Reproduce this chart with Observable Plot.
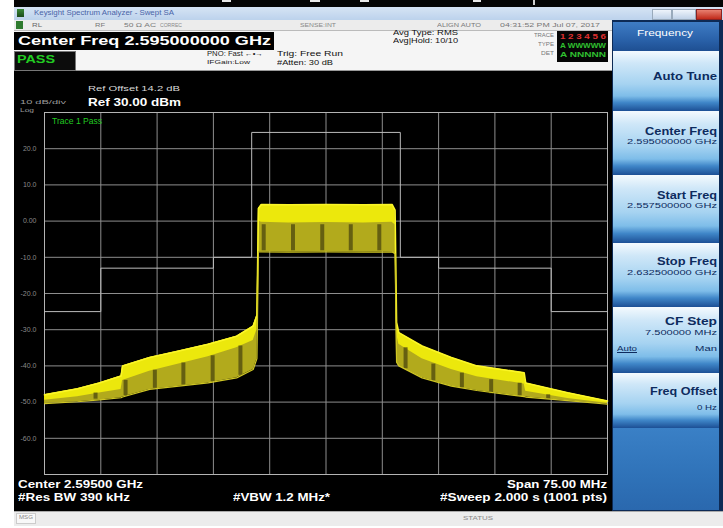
<!DOCTYPE html>
<html><head><meta charset="utf-8">
<script src="https://cdn.jsdelivr.net/npm/d3@7"></script>
<script src="https://cdn.jsdelivr.net/npm/@observablehq/plot@0.6"></script>
<style>
body{margin:0;background:#fff;font-family:"Liberation Sans",Arial,sans-serif;}
#scr{position:relative;width:723px;height:528px;overflow:hidden;background:#fff;}
.b{position:absolute;}
.t{position:absolute;white-space:nowrap;line-height:1;transform-origin:0 0;}
</style></head><body><div id="scr"></div>
<script>
// ---- data (frequency in MHz, level in dBm) ----
const freqMHz = [2557.5, 2561.9, 2564.8, 2567.7, 2567.9, 2571.5, 2575.4, 2579.3, 2583.1, 2585.3, 2585.8, 2586.0, 2586.4, 2590.0, 2595.0, 2600.0, 2603.8, 2604.2, 2604.4, 2604.7, 2607.8, 2611.7, 2615.1, 2621.4, 2621.6, 2627.2, 2632.5];
const upperDbm = [-48.0, -46.3, -44.7, -42.8, -40.0, -37.7, -35.9, -34.0, -31.8, -29.0, -26.0, 3.5, 4.6, 4.5, 4.6, 4.5, 4.6, 3.0, -28.0, -30.8, -34.5, -37.7, -40.0, -41.9, -44.7, -47.4, -49.7];
const brightLowDbm = [-49.5, -48.5, -47.5, -46.5, -44.0, -41.5, -39.5, -37.5, -35.0, -33.0, -30.0, 0.0, -0.3, -0.5, -0.4, -0.5, -0.3, -1.0, -31.0, -34.0, -38.0, -41.0, -43.0, -45.0, -47.0, -49.0, -50.3];
const lowerDbm = [-50.4, -49.9, -49.4, -48.8, -48.6, -46.5, -45.6, -44.7, -43.3, -41.0, -38.0, -8.5, -8.5, -8.6, -8.5, -8.6, -8.5, -9.0, -39.0, -40.0, -43.3, -45.6, -46.8, -48.5, -48.6, -49.6, -50.6];

const stripeMHz = [2564.3, 2568.3, 2572.2, 2576.0, 2579.9, 2583.6, 2586.7, 2590.6, 2594.5, 2598.3, 2602.1, 2605.6, 2609.3, 2613.1, 2617.0, 2620.8, 2624.6];
const stripeTopDbm = [-47.5, -44.0, -41.2, -39.2, -37.2, -34.5, -1.0, -1.0, -1.0, -1.0, -1.0, -35.0, -39.5, -42.0, -43.8, -44.8, -48.0];
const stripeBottomDbm = [-49.2, -48.2, -46.2, -45.3, -44.3, -42.6, -8.2, -8.2, -8.2, -8.2, -8.2, -40.8, -44.2, -46.0, -47.7, -48.3, -49.2];

const maskMHz = [2557.5, 2565.0, 2565.0, 2580.0, 2580.0, 2585.1, 2585.1, 2604.9, 2604.9, 2610.0, 2610.0, 2625.0, 2625.0, 2632.5];
const maskDbm = [-25, -25, -13, -13, -10, -10, 24.5, 24.5, -10, -10, -13, -13, -25, -25];

const xGridMHz = [2565.0, 2572.5, 2580.0, 2587.5, 2595.0, 2602.5, 2610.0, 2617.5, 2625.0];
const yTicks = [20, 10, 0, -10, -20, -30, -40, -50, -60];
const yTickLabels = ["20.0", "10.0", "0.00", "-10.0", "-20.0", "-30.0", "-40.0", "-50.0", "-60.0"];
const xDomain = [2557.5, 2632.5];
const yDomain = [-70, 30];

// ---- screen furniture ----
const scr = document.getElementById("scr");
function B(x, y, w, h, bg, extra) {
  const d = document.createElement("div");
  d.className = "b";
  d.style.cssText = `left:${x}px;top:${y}px;width:${w}px;height:${h}px;background:${bg};` + (extra || "");
  scr.appendChild(d);
  return d;
}
function T(str, x, capTop, size, color, weight, width, extra) {
  const d = document.createElement("div");
  d.className = "t";
  d.textContent = str;
  d.style.cssText = `left:${x}px;top:${capTop - 0.13 * size}px;font-size:${size}px;color:${color};font-weight:${weight};` + (extra || "");
  scr.appendChild(d);
  if (width) {
    const w = d.getBoundingClientRect().width;
    if (w > 0) d.style.transform = `scaleX(${width / w})`;
  }
  return d;
}

// frame pieces
B(0, 0, 723, 528, "#ffffff");
B(14, 0, 709, 7, "#050505");
B(222, 0, 9, 2, "#e8e8e8"); B(310, 0, 10, 2, "#e8e8e8"); B(360, 0, 9, 2, "#e8e8e8"); B(473, 0, 8, 2, "#e8e8e8"); B(533, 0, 2, 5, "#d0d0d0");
// title bar
B(14, 7, 709, 13, "linear-gradient(#d6e4f4,#bcd2ec)");
B(17, 9, 7, 8, "linear-gradient(#3a8a3a,#1a4a1a)");
T("Keysight Spectrum Analyzer - Swept SA", 34, 10, 7, "#4a64a8", "normal", 140);
B(652, 9, 18, 9, "linear-gradient(#eef4fb,#c0d2e8)", "border:1px solid #9ab;");
B(672, 9, 22, 9, "linear-gradient(#eef4fb,#c0d2e8)", "border:1px solid #9ab;");
B(696, 9, 24, 9, "linear-gradient(#e88070,#c02a1a)", "border:1px solid #822;");
// toolbar
B(14, 20, 709, 11, "#ececec", "border-bottom:1px solid #bbb;box-sizing:border-box;");
B(16, 21, 7, 8, "#2e7a2e");
T("RL", 32, 23, 6, "#666", "normal", 10);
T("RF", 95, 23, 6, "#777", "normal", 10);
T("50 Ω   AC", 124, 23, 6, "#777", "normal", 32);
T("CORREC", 160, 23, 6, "#888", "normal", 22);
T("SENSE:INT", 300, 23, 6, "#888", "normal", 36);
T("ALIGN AUTO", 437, 23, 6, "#777", "normal", 44);
T("04:31:52 PM Jul 07, 2017", 500, 23, 6, "#777", "normal", 100);
// info panel
B(14, 31, 598, 40, "#f5f5f5", "border-bottom:1px solid #999;box-sizing:border-box;");
B(14, 32, 260, 18, "#000");
T("Center Freq 2.595000000 GHz", 18, 36, 13, "#ffffff", "bold", 253);
B(14, 51, 62, 20, "#0c0c0c", "border:1px solid #777;box-sizing:border-box;");
T("PASS", 17, 55, 11, "#22cc22", "bold", 38);
T("PNO: Fast ←•→", 207, 51, 7, "#222", "normal", 56);
T("IFGain:Low", 207, 60, 6, "#222", "normal", 43);
T("Trig: Free Run", 277, 51, 7, "#111", "normal", 66);
T("#Atten: 30 dB", 277, 60, 7, "#111", "normal", 56);
T("Avg Type: RMS", 393, 30, 7, "#111", "normal", 65);
T("Avg|Hold: 10/10", 393, 38, 7, "#111", "normal", 65);
T("TRACE", 534, 34, 5, "#777", "normal", 20);
T("TYPE", 538, 43, 5, "#777", "normal", 16);
T("DET", 541, 52, 5, "#777", "normal", 13);
B(557, 31, 51, 31, "#050505");
T("1 2 3 4 5 6", 560, 34, 7, "#e03030", "bold", 46);
T("A WWWWW", 560, 43, 7, "#30c030", "bold", 46);
T("A NNNNN", 560, 52, 7, "#30c030", "bold", 46);
// main black
B(14, 71, 598, 440, "#000");
// texts above plot
T("Ref Offset 14.2 dB", 88, 86, 8, "#d8d8d8", "normal", 92);
T("Ref 30.00 dBm", 88, 98, 11, "#ffffff", "bold", 93);
T("10 dB/div", 20, 100, 6, "#9a9a9a", "normal", 46);
T("Log", 20, 108, 6, "#9a9a9a", "normal", 14);
// bottom texts
T("Center 2.59500 GHz", 18, 480, 11, "#ffffff", "bold", 125);
T("#Res BW 390 kHz", 18, 493, 11, "#ffffff", "bold", 112);
T("#VBW 1.2 MHz*", 233, 493, 11, "#ffffff", "bold", 97);
T("Span 75.00 MHz", 507, 480, 11, "#ffffff", "bold", 100);
T("#Sweep  2.000 s (1001 pts)", 440, 493, 11, "#ffffff", "bold", 167);
// status bar
B(14, 511, 709, 15, "#ececec", "border-top:1px solid #aaa;box-sizing:border-box;");
B(16, 513, 20, 11, "#f8f8f8", "border:1px solid #ccc;box-sizing:border-box;");
T("MSG", 19, 516, 5, "#888", "normal", 14);
T("STATUS", 463, 516, 6, "#888", "normal", 30);
// right softkey panel
B(612, 20, 111, 491, "#0d2a55");
B(613, 22, 106, 29, "linear-gradient(#3f7cc4,#2a62aa 60%,#1e4f92)");
T("Frequency", 637, 30, 9, "#ffffff", "normal", 56);
const keyG = "linear-gradient(#f4fafe 0%,#cfe7f8 20%,#a6d3f1 55%,#7ebde9 75%,#3f86c8 86%,#1c4f95 100%)";
const keys = [[51, 60], [111, 64], [175, 68], [243, 64], [307, 66], [373, 55]];
keys.forEach(k => B(613, k[0], 106, k[1], keyG));
B(613, 428, 106, 82, "linear-gradient(#3a80c6,#2f72b8 60%,#2a68ae)");
const kc = "#0d2b5e";
T("Auto Tune", 653, 73, 10, kc, "bold", 64);
T("Center Freq", 645, 128, 10, kc, "bold", 72);
T("2.595000000 GHz", 627, 139, 7, kc, "normal", 90);
T("Start Freq", 657, 192, 10, kc, "bold", 60);
T("2.557500000 GHz", 627, 203, 7, kc, "normal", 90);
T("Stop Freq", 657, 258, 10, kc, "bold", 60);
T("2.632500000 GHz", 627, 270, 7, kc, "normal", 90);
T("CF Step", 665, 318, 10, kc, "bold", 52);
T("7.500000 MHz", 645, 330, 7, kc, "normal", 72);
T("Auto", 617, 346, 7, kc, "normal", 20, "text-decoration:underline;");
T("Man", 695, 346, 7, kc, "normal", 22);
T("Freq Offset", 650, 388, 10, kc, "bold", 67);
T("0 Hz", 697, 405, 7, kc, "normal", 20);

// ---- the plot ----
const trace = freqMHz.map((f, i) => ({f, up: upperDbm[i], mid: brightLowDbm[i], lo: lowerDbm[i]}));
const stripes = stripeMHz.map((f, i) => ({f, hi: stripeTopDbm[i], lo: stripeBottomDbm[i]}));
const mask = maskMHz.map((f, i) => ({f, v: maskDbm[i]}));

const chart = Plot.plot({
  width: 596,
  height: 440,
  marginLeft: 30,
  marginRight: 3,
  marginTop: 42,
  marginBottom: 36,
  style: {background: "transparent", overflow: "visible", fontFamily: "Liberation Sans, Arial, sans-serif"},
  x: {domain: xDomain, axis: null},
  y: {domain: yDomain, axis: null},
  marks: [
    Plot.gridX(xGridMHz, {stroke: "#8e8e8e", strokeOpacity: 1}),
    Plot.gridY(yTicks, {stroke: "#8e8e8e", strokeOpacity: 1}),
    Plot.frame({stroke: "#b4b4b4"}),
    Plot.line(mask, {x: "f", y: "v", stroke: "#bcbcbc", strokeWidth: 1}),
    Plot.areaY(trace, {x: "f", y1: "lo", y2: "up", fill: "#b2aa1c"}),
    Plot.areaY(trace, {x: "f", y1: "mid", y2: "up", fill: "#ece80c"}),
    Plot.ruleX(stripes, {x: "f", y1: "lo", y2: "hi", stroke: "#57520f", strokeWidth: 4, strokeOpacity: 0.85}),
    Plot.line(trace, {x: "f", y: "up", stroke: "#fbf628", strokeWidth: 1.6}),
    Plot.line(trace, {x: "f", y: "lo", stroke: "#cfc624", strokeWidth: 1.2}),
    Plot.axisY(yTicks, {tickSize: 0, tickPadding: 8, fontSize: 7, fill: "#8a8a8a", label: null,
      tickFormat: d => yTickLabels[yTicks.indexOf(d)]})
  ]
});
chart.style.position = "absolute";
chart.style.left = "14px";
chart.style.top = "70px";
scr.appendChild(chart);
T("Trace 1 Pass", 52, 118, 9, "#22c822", "normal", 50);
</script>
</body></html>
